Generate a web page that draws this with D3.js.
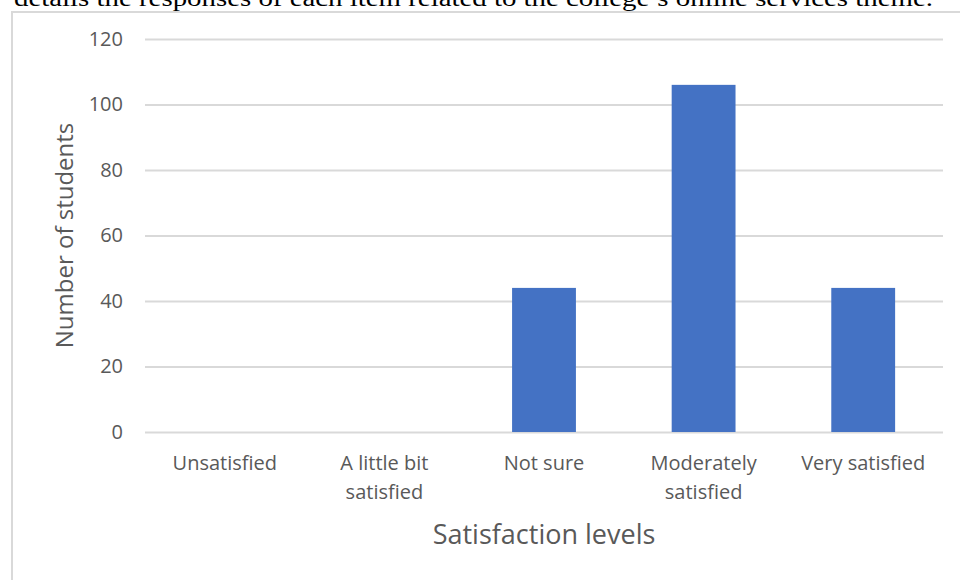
<!DOCTYPE html>
<html>
<head>
<meta charset="utf-8">
<script src="https://cdn.jsdelivr.net/npm/d3@7"></script>
<style>
  html, body { margin: 0; padding: 0; background: #ffffff; }
  svg { display: block; }
</style>
</head>
<body>
<svg id="chart" width="960" height="580"></svg>
<script>
// Survey: satisfaction with the college's online services
const categories = ["Unsatisfied", "A little bit satisfied", "Not sure", "Moderately satisfied", "Very satisfied"];
const studentCounts = [0, 0, 44, 106, 44];
const yTicks = [0, 20, 40, 60, 80, 100, 120];
const headerText = "details the responses of each item related to the college\u2019s online services theme.";
const xTitle = "Satisfaction levels";
const yTitle = "Number of students";

const svg = d3.select("#chart");
const W = 960, H = 580;
const plot = { left: 145, right: 943, top: 39, bottom: 432 };
const textColor = "#595959";
const gridColor = "#d9d9d9";
const barColor = "#4472c4";
const sans = "'Open Sans', 'Noto Sans', sans-serif";

// Running text of the surrounding document, clipped at the top edge
svg.append("text")
  .attr("x", 14)
  .attr("y", 6)
  .attr("font-family", "'Liberation Serif', 'DejaVu Serif', serif")
  .attr("font-size", 24)
  .attr("fill", "#000")
  .attr("textLength", 919)
  .attr("lengthAdjust", "spacingAndGlyphs")
  .text(headerText);

// Chart frame
svg.append("rect")
  .attr("x", 12).attr("y", 12)
  .attr("width", W + 20).attr("height", H + 20)
  .attr("fill", "none")
  .attr("stroke", gridColor)
  .attr("stroke-width", 2);

const x = d3.scaleBand()
  .domain(categories)
  .range([plot.left, plot.right])
  .paddingInner(0.6)
  .paddingOuter(0.3);

const y = d3.scaleLinear()
  .domain([0, 120])
  .range([plot.bottom, plot.top]);

// Horizontal gridlines and value labels
const yAxis = d3.axisLeft(y)
  .tickValues(yTicks)
  .tickSize(-(plot.right - plot.left))
  .tickPadding(22);

const gy = svg.append("g")
  .attr("transform", `translate(${plot.left},0)`)
  .call(yAxis);
gy.select(".domain").remove();
gy.selectAll(".tick line")
  .attr("stroke", gridColor)
  .attr("stroke-width", 2);
gy.selectAll(".tick text")
  .attr("fill", textColor)
  .attr("font-family", sans)
  .attr("font-size", 20);

// Bars
svg.append("g")
  .selectAll("rect")
  .data(categories.map((c, i) => ({ c, v: studentCounts[i] })))
  .join("rect")
  .attr("x", d => x(d.c))
  .attr("width", x.bandwidth())
  .attr("y", d => y(d.v))
  .attr("height", d => y(0) - y(d.v))
  .attr("fill", barColor);

// Category labels, wrapped to the band width
const xAxis = d3.axisBottom(x).tickSize(0).tickPadding(0);
const gx = svg.append("g")
  .attr("transform", `translate(0,${plot.bottom})`)
  .call(xAxis);
gx.select(".domain").remove();
const step = x.step();
gx.selectAll(".tick text")
  .attr("fill", textColor)
  .attr("font-family", sans)
  .attr("font-size", 20)
  .attr("dy", null)
  .each(function (d) {
    const t = d3.select(this);
    const words = d.split(" ");
    t.text(null);
    const lines = [];
    let line = [];
    let tspan = t.append("tspan");
    words.forEach(w => {
      line.push(w);
      tspan.text(line.join(" "));
      if (tspan.node().getComputedTextLength() > step * 0.9 && line.length > 1) {
        line.pop();
        lines.push(line.join(" "));
        line = [w];
        tspan.text(w);
      }
    });
    lines.push(line.join(" "));
    t.text(null);
    lines.forEach((l, i) => {
      t.append("tspan")
        .attr("x", 0)
        .attr("y", 38 + i * 29)
        .text(l);
    });
  });

// Axis titles
svg.append("text")
  .attr("x", (plot.left + plot.right) / 2)
  .attr("y", 544)
  .attr("text-anchor", "middle")
  .attr("fill", textColor)
  .attr("font-family", sans)
  .attr("font-size", 27)
  .text(xTitle);

svg.append("text")
  .attr("transform", `translate(73,${(plot.top + plot.bottom) / 2}) rotate(-90)`)
  .attr("text-anchor", "middle")
  .attr("fill", textColor)
  .attr("font-family", sans)
  .attr("font-size", 24)
  .text(yTitle);
</script>
</body>
</html>
